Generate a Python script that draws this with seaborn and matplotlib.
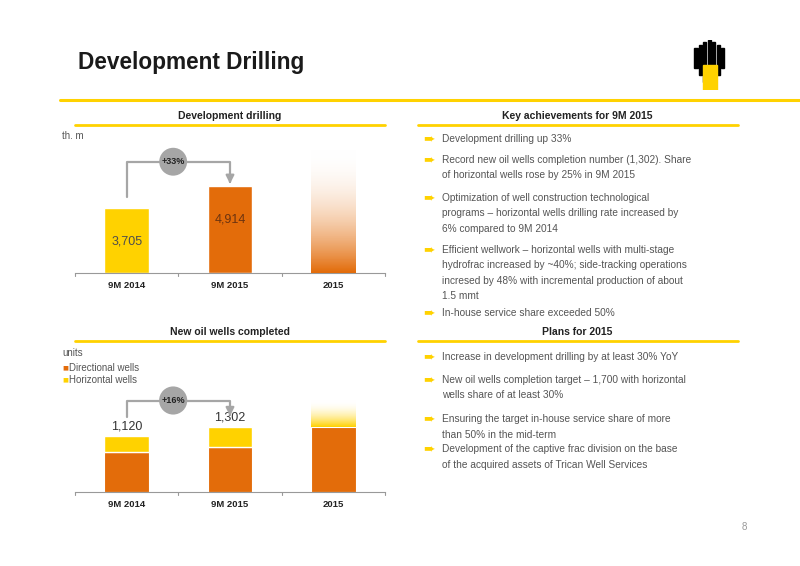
import numpy as np
import matplotlib
matplotlib.use("Agg")
import matplotlib.pyplot as plt
import seaborn as sns
from matplotlib.colors import LinearSegmentedColormap

sns.set_style("white")
plt.rcParams['font.family'] = ['Liberation Sans', 'DejaVu Sans']

YELLOW = "#FFD200"
ORANGE = "#E36C0A"
GREY = "#555555"

# data
periods = ["9M 2014", "9M 2015", "2015"]
drilling = [3705, 4914, 7000]          # th. m, 2015 is a faded target bar
drilling_labels = ["3,705", "4,914", ""]
directional = [800, 900, 1300]
horizontal = [320, 402, 540]
wells_labels = ["1,120", "1,302", ""]
drill_growth = "+33%"
wells_growth = "+16%"

achievements = [
    ["Development drilling up 33%"],
    ["Record new oil wells completion number (1,302). Share",
     "of horizontal wells rose by 25% in 9M 2015"],
    ["Optimization of well construction technological",
     "programs – horizontal wells drilling rate increased by",
     "6% compared to 9M 2014"],
    ["Efficient wellwork – horizontal wells with multi-stage",
     "hydrofrac increased by ~40%; side-tracking operations",
     "incresed by 48% with incremental production of about",
     "1.5 mmt"],
    ["In-house service share exceeded 50%"],
]
achievement_y = [139, 160, 198, 250, 313]
plans = [
    ["Increase in development drilling by at least 30% YoY"],
    ["New oil wells completion target – 1,700 with horizontal",
     "wells share of at least 30%"],
    ["Ensuring the target in-house service share of more",
     "than 50% in the mid-term"],
    ["Development of the captive frac division on the base",
     "of the acquired assets of Trican Well Services"],
]
plans_y = [357, 380, 419, 449]

W, H = 800, 566
fig = plt.figure(figsize=(8, 5.66), dpi=100)


def fx(x):
    return x / W


def fy(y):
    return 1 - y / H


def hline(x0, x1, y, color=YELLOW, lw=2.0):
    fig.add_artist(plt.Line2D([fx(x0), fx(x1)], [fy(y), fy(y)], color=color, lw=lw))


# title and page
fig.text(fx(78), fy(63), "Development Drilling", fontsize=16.3, fontweight="bold",
         color="#1a1a1a", va="center")
hline(60, 800, 100, lw=2.2)
fig.text(fx(744), fy(527), "8", fontsize=7, color="#999999", va="center", ha="center")

# logo
logo = fig.add_axes([fx(690), fy(90), fx(40), fy(40) - fy(90)])
logo.set_xlim(0, 9)
logo.set_ylim(0, 10)
logo.axis("off")
for i, h in enumerate([4, 6, 8, 9, 8, 6, 4]):
    logo.add_patch(plt.Rectangle((1 + i, 10 - h - (9 - h) * 0.3), 0.7, h, color="black"))
logo.add_patch(plt.Rectangle((3, 0), 3, 5, color=YELLOW))

# section headers
for text, cx, y, x0, x1 in [("Development drilling", 230, 116, 75, 385),
                            ("Key achievements for 9M 2015", 577, 116, 418, 738),
                            ("New oil wells completed", 230, 332, 75, 385),
                            ("Plans for 2015", 577, 332, 418, 738)]:
    fig.text(fx(cx), fy(y), text, fontsize=7.5, fontweight="bold", color="#222222",
             ha="center", va="center")
    hline(x0, x1, y + 9)


def bullets(items, ys):
    for lines, y in zip(items, ys):
        fig.text(fx(423), fy(y), "➨", fontsize=10, color=YELLOW, va="center",
                 family="DejaVu Sans")
        for k, line in enumerate(lines):
            fig.text(fx(442), fy(y + k * 15.5), line, fontsize=7.3, color=GREY, va="center")


bullets(achievements, achievement_y)
bullets(plans, plans_y)


def style_axis(ax):
    ax.set_xlim(-0.5, 2.5)
    sns.despine(ax=ax, left=True)
    ax.spines["bottom"].set_color("#999999")
    ax.set_yticks([])
    ax.set_xticks(range(3))
    ax.set_xticklabels(periods, fontsize=6.8, fontweight="bold", color="#222222")
    ax.tick_params(axis="x", length=0, pad=6)
    for b in [-0.5, 0.5, 1.5, 2.5]:
        ax.plot([b, b], [0, -0.025], transform=ax.get_xaxis_transform(),
                color="#999999", lw=0.8, clip_on=False)


def fade_bar(ax, patch, color):
    cmap = LinearSegmentedColormap.from_list("f", [(1, 1, 1, 0), color])
    x, y = patch.get_x(), patch.get_y()
    im = ax.imshow(np.linspace(0, 1, 100).reshape(-1, 1), cmap=cmap, aspect="auto",
                   extent=[x, x + patch.get_width(), y, y + patch.get_height()],
                   origin="upper", zorder=3)
    im.set_clip_path(patch)
    patch.set_alpha(0)


def growth_arrow(ax, y0, y_top, y1, label):
    ax.plot([0, 0, 1, 1], [y0, y_top, y_top, y1], color="#A6A6A6", lw=1.6, zorder=4)
    ax.annotate("", xy=(1, y1 - 0.01 * ax.get_ylim()[1] * 2), xytext=(1, y1 + 1),
                arrowprops=dict(arrowstyle="-|>", color="#A6A6A6", lw=1.6,
                                mutation_scale=12), zorder=4)
    ax.text(0.45, y_top, label, fontsize=6.5, fontweight="bold", ha="center", va="center",
            color="#222222", zorder=6,
            bbox=dict(boxstyle="circle,pad=0.25", fc="#A6A6A6", ec="none"))


# top chart
ax1 = fig.add_axes([fx(75), fy(273), fx(310), fy(140) - fy(273)])
ax1.set_ylim(0, 7530)
bars = ax1.bar(range(3), drilling, width=0.43, color=[YELLOW, ORANGE, ORANGE], zorder=2)
fade_bar(ax1, bars[2], ORANGE)
for i, (v, t) in enumerate(zip(drilling, drilling_labels)):
    if t:
        ax1.text(i, v * (0.48 if i == 0 else 0.62), t, ha="center", va="center",
                 fontsize=9, color="#4d4d4d" if i == 0 else "#6b3310")
style_axis(ax1)
ax1.set_ylim(0, 7530)
growth_arrow(ax1, 4300, 6300, 5200, drill_growth)
fig.text(fx(62), fy(136), "th. m", fontsize=7, color=GREY, va="center")

# bottom chart
ax2 = fig.add_axes([fx(75), fy(492), fx(310), fy(390) - fy(492)])
ax2.set_ylim(0, 2040)
lower = ax2.bar(range(3), directional, width=0.43, color=ORANGE, edgecolor="white",
                lw=0.8, zorder=2)
upper = ax2.bar(range(3), horizontal, bottom=directional, width=0.43, color=YELLOW,
                zorder=2)
fade_bar(ax2, upper[2], YELLOW)
for i, t in enumerate(wells_labels):
    if t:
        ax2.text(i, directional[i] + horizontal[i] + 70, t, ha="center", va="bottom",
                 fontsize=9, color="#333333")
style_axis(ax2)
ax2.set_ylim(0, 2040)
growth_arrow(ax2, 1500, 1830, 1560, wells_growth)
fig.text(fx(62), fy(353), "units", fontsize=7, color=GREY, va="center")
for k, (name, c) in enumerate([("Directional wells", ORANGE), ("Horizontal wells", YELLOW)]):
    fig.text(fx(62), fy(368 + 12 * k), "■", fontsize=4.5, color=c, va="center",
             family="DejaVu Sans")
    fig.text(fx(69), fy(368 + 12 * k), name, fontsize=7, color=GREY, va="center")

fig.savefig("out.png", dpi=100)
